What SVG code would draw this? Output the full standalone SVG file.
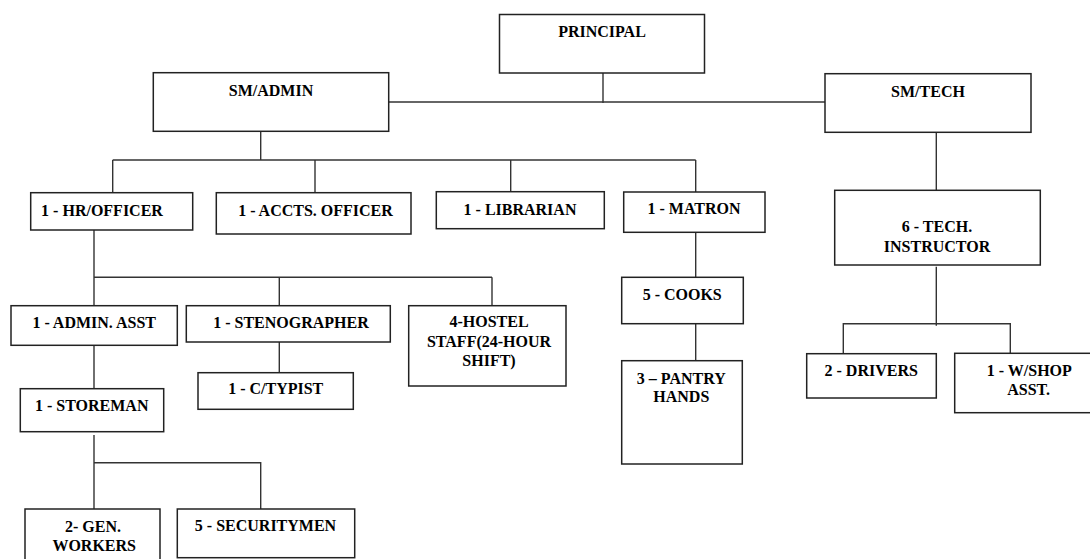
<svg xmlns="http://www.w3.org/2000/svg" width="1090" height="559" viewBox="0 0 1090 559">
  <style>
    .box { fill: #ffffff; stroke: #222222; stroke-width: 1.5; }
    .wire { fill: none; stroke: #333333; stroke-width: 1.4; }
    .lbl { font-family: "Liberation Serif", "Times New Roman", serif; font-weight: bold; font-size: 16px; fill: #000000; text-anchor: middle; }
  </style>
  <rect width="1090" height="559" fill="#ffffff"/>

  <!-- connectors -->
  <g id="connectors" class="wire">
    <path d="M603 73 V103"/>
    <path d="M388.7 102 H825"/>
    <path d="M260.7 131.3 V160"/>
    <path d="M112.7 160 H695.7"/>
    <path d="M112.7 160 V192.7"/>
    <path d="M315 160 V192.7"/>
    <path d="M510.7 160 V191.7"/>
    <path d="M695.7 160 V192"/>
    <path d="M936.3 132.3 V190.3"/>
    <path d="M94 230 V305.7"/>
    <path d="M94 277.3 H492"/>
    <path d="M279.3 277.3 V305.7"/>
    <path d="M492 277.3 V305.7"/>
    <path d="M279.3 342 V372.7"/>
    <path d="M94 345.3 V388.7"/>
    <path d="M94 435 V509"/>
    <path d="M94 462.7 H260.7 V509"/>
    <path d="M695.7 232.3 V277.3"/>
    <path d="M695.7 323.7 V360.7"/>
    <path d="M936.3 266.7 V325.7"/>
    <path d="M843.3 353.7 V323.7 H1010.3 V353.3"/>
  </g>

  <g id="principal">
    <rect class="box" x="499.5" y="14.5" width="205" height="58.5"/>
    <text class="lbl" x="602" y="37">PRINCIPAL</text>
  </g>
  <g id="sm-admin">
    <rect class="box" x="153.3" y="72.7" width="235.4" height="58.6"/>
    <text class="lbl" x="271" y="96">SM/ADMIN</text>
  </g>
  <g id="sm-tech">
    <rect class="box" x="825" y="73.7" width="206" height="58.6"/>
    <text class="lbl" x="928" y="97">SM/TECH</text>
  </g>
  <g id="hr-officer">
    <rect class="box" x="30.7" y="192.7" width="162" height="37.3"/>
    <text class="lbl" x="102" y="216">1 - HR/OFFICER</text>
  </g>
  <g id="accts-officer">
    <rect class="box" x="216.3" y="192.7" width="194.7" height="41.3"/>
    <text class="lbl" x="315.5" y="216">1 - ACCTS. OFFICER</text>
  </g>
  <g id="librarian">
    <rect class="box" x="436.3" y="191.7" width="168" height="37"/>
    <text class="lbl" x="520" y="215">1 - LIBRARIAN</text>
  </g>
  <g id="matron">
    <rect class="box" x="623.7" y="192" width="141.3" height="40.3"/>
    <text class="lbl" x="694" y="214">1 - MATRON</text>
  </g>
  <g id="tech-instructor">
    <rect class="box" x="834.7" y="190.3" width="205.6" height="74.7"/>
    <text class="lbl" x="937" y="232.3">6 - TECH.</text>
    <text class="lbl" x="937" y="252.3">INSTRUCTOR</text>
  </g>
  <g id="admin-asst">
    <rect class="box" x="11" y="305.7" width="166.3" height="39.6"/>
    <text class="lbl" x="94.2" y="328">1 - ADMIN. ASST</text>
  </g>
  <g id="stenographer">
    <rect class="box" x="186.3" y="305.7" width="204" height="36.3"/>
    <text class="lbl" x="291" y="327.5">1 - STENOGRAPHER</text>
  </g>
  <g id="c-typist">
    <rect class="box" x="198" y="372.7" width="155.3" height="36.6"/>
    <text class="lbl" x="275.7" y="394">1 - C/TYPIST</text>
  </g>
  <g id="hostel-staff">
    <rect class="box" x="408.7" y="305.7" width="157.3" height="80.3"/>
    <text class="lbl" x="489" y="327.3">4-HOSTEL</text>
    <text class="lbl" x="489" y="347.3">STAFF(24-HOUR</text>
    <text class="lbl" x="489" y="366.3">SHIFT)</text>
  </g>
  <g id="storeman">
    <rect class="box" x="20.3" y="388.7" width="143.4" height="43"/>
    <text class="lbl" x="91.7" y="411.3">1 - STOREMAN</text>
  </g>
  <g id="gen-workers">
    <rect class="box" x="25" y="509" width="135" height="56"/>
    <text class="lbl" x="93" y="532.3">2- GEN.</text>
    <text class="lbl" x="94.2" y="550.7">WORKERS</text>
  </g>
  <g id="securitymen">
    <rect class="box" x="177.3" y="509" width="177.4" height="48.7"/>
    <text class="lbl" x="265.5" y="531.3">5 - SECURITYMEN</text>
  </g>
  <g id="cooks">
    <rect class="box" x="621.7" y="277.3" width="121.6" height="46.4"/>
    <text class="lbl" x="682.2" y="299.7">5 - COOKS</text>
  </g>
  <g id="pantry-hands">
    <rect class="box" x="621.7" y="360.7" width="120.6" height="103.3"/>
    <text class="lbl" x="681.3" y="384">3 – PANTRY</text>
    <text class="lbl" x="681.3" y="402.3">HANDS</text>
  </g>
  <g id="drivers">
    <rect class="box" x="806.7" y="353.7" width="129.6" height="44.3"/>
    <text class="lbl" x="871.2" y="375.7">2 - DRIVERS</text>
  </g>
  <g id="wshop-asst">
    <rect class="box" x="954.7" y="353.3" width="148.3" height="59.4"/>
    <text class="lbl" x="1029.3" y="375.7">1 - W/SHOP</text>
    <text class="lbl" x="1028.7" y="395">ASST.</text>
  </g>
</svg>
